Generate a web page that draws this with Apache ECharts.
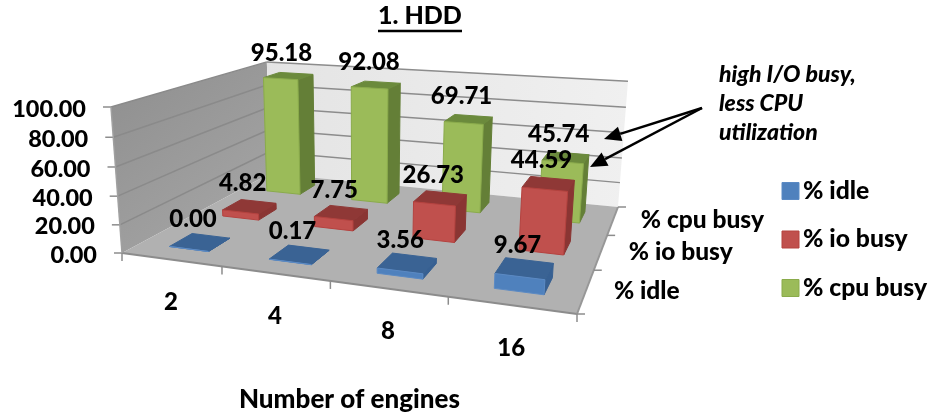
<!DOCTYPE html>
<html>
<head>
<meta charset="utf-8">
<style>html,body{margin:0;padding:0;background:#fff}#chart{width:931px;height:417px}</style>
<script src="https://cdn.jsdelivr.net/npm/echarts@6/dist/echarts.min.js"></script>
</head>
<body>
<div id="chart"></div>
<script>
// Engine scaling, HDD run: CPU / IO / idle shares per engine count
const engines = ['2', '4', '8', '16'];
const rows = ['% idle', '% io busy', '% cpu busy'];
const idle = [0.00, 0.17, 3.56, 9.67];
const ioBusy = [4.82, 7.75, 26.73, 44.59];
const cpuBusy = [95.18, 92.08, 69.71, 45.74];
const valueTicks = [0, 20, 40, 60, 80, 100];

const FONT = 'Lato, Carlito, "Open Sans", sans-serif';
const WEIGHT = 900;
const SIZE = 24;

// Perspective camera: floor corners plus the vanishing point of the vertical edges
const FL = [122, 253], FR = [577, 314], BR = [618, 207], BL = [270, 173.5];
const VP = [362, 3429];
const FRONT_TOP_Y = 107;

function floorMatrix() {
  const dx1 = FR[0] - BR[0], dx2 = BL[0] - BR[0], sx = FL[0] - FR[0] + BR[0] - BL[0];
  const dy1 = FR[1] - BR[1], dy2 = BL[1] - BR[1], sy = FL[1] - FR[1] + BR[1] - BL[1];
  const den = dx1 * dy2 - dx2 * dy1;
  const g = (sx * dy2 - dx2 * sy) / den;
  const h = (dx1 * sy - sx * dy1) / den;
  return {
    a: FR[0] - FL[0] + g * FR[0], b: BL[0] - FL[0] + h * BL[0], c: FL[0],
    d: FR[1] - FL[1] + g * FR[1], e: BL[1] - FL[1] + h * BL[1], f: FL[1],
    g: g, h: h
  };
}
const M = floorMatrix();
const LIFT = (FRONT_TOP_Y - FL[1]) / (VP[1] - FRONT_TOP_Y);

// u: along the engine axis, v: into the depth, t: height as a share of the value axis
function project(u, v, t) {
  const w = M.g * u + M.h * v + 1 + LIFT * t;
  return [
    (M.a * u + M.b * v + M.c + LIFT * t * VP[0]) / w,
    (M.d * u + M.e * v + M.f + LIFT * t * VP[1]) / w
  ];
}

const BAR_WIDTH = 0.40;
const BAR_DEPTH = 0.40;
const LABEL_OFFSET = [-7, -23];

const palettes = {
  '% idle': { front: '#4f81bd', edge: '#5b8ac4', top: '#3a6394', side: '#376092' },
  '% io busy': { front: '#c0504d', edge: '#b5423f', top: '#8f3836', side: '#8a3533' },
  '% cpu busy': { front: '#9bbb59', edge: '#8aab4b', top: '#6b8a3c', side: '#647f37' }
};

function text(str, x, y, opts) {
  return {
    type: 'text',
    silent: true,
    style: Object.assign({
      text: str, x: x, y: y, fill: '#000',
      fontFamily: FONT, fontWeight: WEIGHT, fontSize: SIZE,
      align: 'center', verticalAlign: 'middle'
    }, opts || {})
  };
}

function barGeometry(params, api, row) {
  const cs = params.coordSys;
  const top = api.coord([api.value(0), api.value(1)]);
  const base = api.coord([api.value(0), 0]);
  const u = (base[0] - cs.x) / cs.width;
  const t = (base[1] - top[1]) / cs.height;
  const hu = api.size([1, 0])[0] / cs.width * BAR_WIDTH / 2;
  const v = (row + 0.5) / rows.length;
  const hv = BAR_DEPTH / rows.length / 2;
  return { u: u, v: v, t: t, hu: hu, hv: hv };
}

function barRenderer(row) {
  const pal = palettes[rows[row]];
  return function (params, api) {
    const b = barGeometry(params, api, row);
    const p = (du, dv, top) => project(b.u + du * b.hu, b.v + dv * b.hv, top ? b.t : 0);
    const poly = (pts, fill, stroke) => ({
      type: 'polygon', silent: true,
      shape: { points: pts },
      style: { fill: fill, stroke: stroke, lineWidth: 1, lineJoin: 'round' }
    });
    return {
      type: 'group',
      children: [
        poly([p(1, -1, 0), p(1, 1, 0), p(1, 1, 1), p(1, -1, 1)], pal.side, pal.side),
        poly([p(-1, 1, 1), p(1, 1, 1), p(1, -1, 1), p(-1, -1, 1)], pal.top, pal.top),
        poly([p(-1, -1, 0), p(1, -1, 0), p(1, -1, 1), p(-1, -1, 1)], pal.front, pal.edge)
      ]
    };
  };
}

// Value labels float above every bar, so they get their own top layer
function labelRenderer(row) {
  return function (params, api) {
    const b = barGeometry(params, api, row);
    const c = project(b.u, b.v, b.t);
    return text(api.value(1).toFixed(2), c[0] + LABEL_OFFSET[0], c[1] + LABEL_OFFSET[1]);
  };
}

function line(a, b, stroke, width) {
  return {
    type: 'line', silent: true,
    shape: { x1: a[0], y1: a[1], x2: b[0], y2: b[1] },
    style: { stroke: stroke, lineWidth: width }
  };
}

function renderFrame() {
  const kids = [];
  const wall = (pts, fill) => kids.push({ type: 'polygon', silent: true, shape: { points: pts }, style: { fill: fill } });
  const grad = (x, y, x2, y2, c0, c1) => new echarts.graphic.LinearGradient(x, y, x2, y2, [
    { offset: 0, color: c0 }, { offset: 1, color: c1 }
  ]);
  wall([project(0, 0, 0), project(0, 1, 0), project(0, 1, 1), project(0, 0, 1)],
    grad(0, 0, 1, 1, '#8e8e8e', '#a8a8a8'));
  wall([project(0, 1, 0), project(1, 1, 0), project(1, 1, 1), project(0, 1, 1)],
    grad(0, 0, 1, 0, '#e4e4e4', '#f0f0f0'));
  wall([project(0, 0, 0), project(1, 0, 0), project(1, 1, 0), project(0, 1, 0)], '#b1b1b1');

  valueTicks.forEach(function (tick) {
    const t = tick / 100;
    const a = project(0, 0, t), b = project(0, 1, t), c = project(1, 1, t);
    if (tick > 0) {
      kids.push(line(a, b, '#8a8a8a', 1.5));
      kids.push(line(b, c, '#8c8c8c', 1.5));
    }
    kids.push(line([a[0] - 8, a[1]], a, '#8c8c8c', 1.5));
    kids.push(text(tick.toFixed(2), a[0] - 25, a[1] + 2, { align: 'right', fontSize: 23.5 }));
  });

  kids.push(line(project(0, 0, 0), project(1, 0, 0), '#8c8c8c', 2));
  kids.push(line(project(1, 0, 0), project(1, 1, 0), '#979797', 2));
  kids.push(line(project(0, 0, 0), project(0, 0, 1), '#a0a0a0', 1.5));

  engines.forEach(function (name, i) {
    const m = project((i + 0.5) / engines.length, 0, 0);
    kids.push(text(name, m[0], m[1] + 43));
  });
  for (let i = 0; i <= engines.length; i++) {
    const a = project(i / engines.length, 0, 0);
    kids.push(line(a, [a[0], a[1] + 8], '#8c8c8c', 1.5));
  }
  rows.forEach(function (name, i) {
    const m = project(1, (i + 0.5) / rows.length, 0);
    kids.push(text(name, m[0] + 28, m[1] + 0, { align: 'left', fontSize: 24.5 }));
  });
  for (let i = 0; i <= rows.length; i++) {
    const a = project(1, i / rows.length, 0);
    kids.push(line(a, [a[0] + 8, a[1]], '#8c8c8c', 1.5));
  }
  return { type: 'group', children: kids };
}

function pairs(values) { return values.map((v, i) => [i, v]); }

function barSeries(name, values, row) {
  return {
    type: 'custom', name: name, z: 10 - row,
    renderItem: barRenderer(row),
    encode: { x: 0, y: 1 },
    data: pairs(values),
    itemStyle: { color: palettes[name].front },
    silent: true, animation: false
  };
}
function labelSeries(name, values, row) {
  return {
    type: 'custom', z: 20,
    renderItem: labelRenderer(row),
    encode: { x: 0, y: 1 },
    data: pairs(values),
    silent: true, animation: false
  };
}

// Callout arrow pointing from the note at the two lowest-CPU values
function arrow(from, tip) {
  const dx = tip[0] - from[0], dy = tip[1] - from[1];
  const len = Math.hypot(dx, dy), ux = dx / len, uy = dy / len;
  const headL = 17, headW = 7.5;
  const bx = tip[0] - ux * headL, by = tip[1] - uy * headL;
  return [
    { type: 'line', silent: true, shape: { x1: from[0], y1: from[1], x2: bx, y2: by }, style: { stroke: '#000', lineWidth: 2.5 } },
    { type: 'polygon', silent: true, shape: { points: [tip, [bx - uy * headW, by + ux * headW], [bx + uy * headW, by - ux * headW]] }, style: { fill: '#000' } }
  ];
}

function note(str, y) {
  return { type: 'text', silent: true, style: { text: str, x: 719, y: y, fill: '#000', fontFamily: FONT, fontWeight: WEIGHT, fontStyle: 'italic', fontSize: 23, align: 'left', verticalAlign: 'middle' } };
}

const chart = echarts.init(document.getElementById('chart'));
chart.setOption({
  animation: false,
  backgroundColor: '#fff',
  title: {
    text: '1. HDD', left: 378, top: 3, padding: 0,
    textStyle: { fontFamily: FONT, fontWeight: WEIGHT, fontSize: 25, color: '#000' }
  },
  grid: { left: 0, top: 0, width: 400, height: 400, show: false },
  xAxis: { type: 'category', data: engines, show: false },
  yAxis: { type: 'value', min: 0, max: 100, interval: 20, show: false },
  legend: {
    orient: 'vertical', left: 781.5, top: 178.5, itemWidth: 17, itemHeight: 17, itemGap: 23.5, padding: 0,
    selectedMode: false,
    textStyle: { fontFamily: FONT, fontWeight: WEIGHT, fontSize: 24.7, color: '#000', padding: [0, 0, 0, -1] },
    data: rows.map(function (name) {
      return {
        name: name, icon: 'rect',
        itemStyle: { color: palettes[name].front, borderColor: palettes[name].edge, borderWidth: 1 }
      };
    })
  },
  series: [
    {
      type: 'custom', z: 1, renderItem: renderFrame,
      encode: { x: 0, y: 1 }, data: [[0, 0]], silent: true, animation: false
    },
    barSeries(rows[2], cpuBusy, 2),
    barSeries(rows[1], ioBusy, 1),
    barSeries(rows[0], idle, 0),
    labelSeries(rows[2], cpuBusy, 2),
    labelSeries(rows[1], ioBusy, 1),
    labelSeries(rows[0], idle, 0)
  ],
  graphic: [
    { type: 'line', silent: true, shape: { x1: 378, y1: 31, x2: 462, y2: 31 }, style: { stroke: '#000', lineWidth: 2.5 } },
    { type: 'text', silent: true, style: { text: 'Number of engines', x: 349.5, y: 400, fill: '#000', fontFamily: FONT, fontWeight: WEIGHT, fontSize: 26, align: 'center', verticalAlign: 'middle' } },
    note('high I/O busy,', 75),
    note('less CPU', 104),
    note('utilization', 133)
  ].concat(arrow([702, 108], [604, 139]), arrow([702, 108], [590, 167]))
    .map(function (el) { el.z = 30; return el; })
});
</script>
</body>
</html>
